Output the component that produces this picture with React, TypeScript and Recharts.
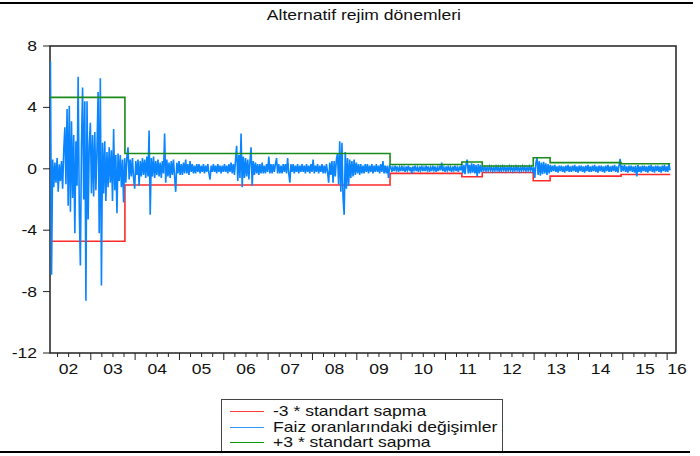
import React from 'react';
import { LineChart, Line, XAxis, YAxis, ReferenceArea } from 'recharts';

// ---- data -------------------------------------------------------------
// weekly-ish sampled changes, first point 2002.09, one step = 0.025 year
const baslangic = 2002.09;
const adim = 0.025;

// 2002 - late 2003 (high volatility regime)
const degisim2002 = [
  7.0, -6.9, 0.6, -1.2, 0.4, -0.9, 0.7, -1.5, 0.3, -0.8,
  0.5, -1.3, 1.2, 2.7, -1.0, 3.9, -2.4, 4.1, -2.8, 3.1,
  -1.9, 2.2, -4.2, 1.8, -1.1, 6.0, -2.5, -6.3, 1.6, 5.3,
  -2.0, 4.4, -8.6, 4.4, -3.3, 1.5, 3.0, -1.6, 2.2, -1.8,
  2.4, -1.4, 1.3, 5.0, -4.2, 5.9, -7.6, 1.7, -1.6, 1.8,
  -2.1, 1.1, -1.2, 1.4, -0.9, 1.2, -2.1, 2.6, -1.4, 0.9,
  -2.9, 1.0, -0.8, 0.9, -1.2, 0.6, -2.2, 0.7,
];

// late 2003 - 2006
const degisim2004 = [
  -0.9, 0.8, 1.4, -0.7, 0.6, -0.5, 0.7, -0.6, -1.3, 0.5, -0.4, 0.6,
  -1.1, 0.5, -0.5, 0.7, -0.4, 0.6, -0.6, 0.8, -0.5, 2.5, -3.0, 0.7, -0.5, 0.8, -0.6, 0.5, -0.4, 0.6, -0.5, 0.4,
  -0.6, 0.5, -0.3, 2.3, -0.9, 0.6, -0.5, 0.4, -0.6, 0.5, -0.4, 0.6, -0.5, -1.5, 0.4, -0.3, 0.5, -0.4, 0.3, -0.4,
  0.4, -0.3, 0.6, -0.3, 0.3, -0.4, 0.5, -0.2, 0.3, -0.3, 0.2, -0.3, 0.3, -0.2, 0.3, -0.3, 0.2, -0.2, 0.3, -0.3,
  0.2, -0.2, 0.3, -0.3, -0.7, 0.2, -0.2, 0.3, -0.2, 0.2, -0.3, 0.3, -0.2, 0.2, -0.3, 0.2, -0.2, 0.3, -0.2, 0.2,
  -0.3, 0.3, -0.2, 0.4, -0.3, 0.3, -0.4,
];

// 2006 - 2009
const degisim2006 = [
  0.6, 1.5, -0.8, 0.9, -0.6, 2.3, -1.2, 0.8, -0.6, 0.7, -0.5, 0.6, -0.7,
  0.5, 1.4, -1.1, 0.5, -0.4, 0.4, -0.3, 0.3, -0.4, 0.3, -0.3, 0.4, -0.3, 0.2, -0.3, 0.3, -0.2, 0.8, -0.3, 0.3,
  -0.3, 0.3, -0.2, 0.3, 0.7, -0.3, 0.3, -0.3, 0.2, -0.3, 0.3, -0.2, 0.3, -0.3, 0.7, -0.3, -0.9, 0.3, -0.2, 0.3,
  -0.3, 0.2, -0.2, 0.3, -0.3, 0.2, -0.2, 0.3, -0.2, 0.2, -0.3, 0.3, -0.2, 0.2, -0.3, 0.3, -0.2, 0.6, -0.3, 0.2,
  -0.2, 0.3, -0.3, 0.2, -0.2, 0.3, -0.3, 0.2, -0.3, 0.3, -0.2, -0.9, 0.4, -0.4, 0.5, -0.9, 0.5, -0.5, 0.6, 1.0,
  -1.0, 1.8, -1.5, 1.7, -1.9, -3.0, 1.1, -1.3, 0.7, -1.1, 0.6, -0.6, 0.5, -0.5, 0.6, -0.4, 0.4, -0.3, 0.3, -0.4,
  0.3, -0.3, 0.2, -0.3, 0.3, -0.2, 0.3, -0.3, 0.2, -0.2, 0.3, -0.3, 0.2, -0.2, 0.3, -0.2, 0.2, -0.3, 0.3, -0.2,
  0.5, -0.3, 0.2, -0.3, 0.2, -0.6, 0.2,
];

// late 2009 - 2012
const degisim2010 = [
  0.15, -0.2, 0.1, -0.15, 0.2, -0.1, 0.15, -0.2, 0.1, -0.15,
  0.2, -0.15, 0.1, -0.2, 0.15, -0.1, 0.2, -0.15, 0.1, -0.3,
  0.15, -0.1, 0.2, -0.15, 0.1, -0.2, 0.15, -0.1, 0.2, -0.15,
  0.1, -0.15, 0.2,
  -0.1, 0.15, -0.2, 0.1, -0.15, 0.2, -0.1, 0.15, -0.2, 0.1,
  -0.15, 0.2, -0.1, 0.4, -0.15, 0.1, -0.2, 0.15, -0.1, 0.2,
  -0.15, 0.1, -0.2, 0.15, -0.1, 0.2, -0.15, 0.1, -0.2, 0.15,
  -0.1,
  0.3, -0.3, 0.25, -0.35, 0.3, 0.6, -0.3, 0.25, -0.3, 0.35,
  -0.25, 0.3, -0.3, 0.25, -0.5, 0.3, -0.3, 0.25, -0.2,
  0.15, -0.1, 0.12, -0.15, 0.1, -0.12, 0.15, -0.1, 0.12, -0.15,
  0.1, -0.12, 0.15, -0.1, 0.12, -0.2, 0.1, -0.12, 0.15, -0.1,
  0.12, -0.15, 0.1, -0.12, 0.15, -0.1, 0.12, -0.15, 0.1, -0.12,
  0.15, -0.1, 0.12, -0.15, 0.1, -0.12, 0.15, -0.1, 0.12, -0.15,
  0.1, -0.12, 0.15, -0.1, 0.12, -0.15, 0.1,
];

// 2013 - 2016
const degisim2013 = [
  -0.6, 0.4, 0.7, -0.4, 0.5, -0.45, 0.4, -0.35, 0.45, -0.3,
  0.35, -0.4, 0.3, -0.3, 0.25,
  -0.2, 0.2, -0.15, 0.25, -0.2, 0.15, -0.25, 0.2, -0.15, 0.2,
  -0.2, 0.15, -0.25, 0.2, -0.15, 0.25, -0.2, 0.15, -0.2, 0.2,
  -0.15, 0.25, -0.2, 0.15, -0.25, 0.2, -0.15, 0.2, -0.2, 0.15,
  -0.25, 0.2, -0.15, 0.25, -0.2, 0.15, -0.2, 0.2, -0.15, 0.25,
  -0.2, 0.15, -0.25, 0.2, -0.15, 0.2, -0.2, 0.15, -0.25, 0.2,
  -0.15, 0.25, -0.2, 0.15, -0.2, 0.2, -0.15, 0.25, -0.2, 0.15,
  -0.25, 0.2,
  0.65,
  -0.2, 0.2, -0.15, 0.25, -0.2, 0.15, -0.25, 0.2, -0.15, 0.2,
  -0.2, 0.15, -0.25, 0.2, -0.5, 0.25, -0.2, 0.15, -0.25, 0.2,
  -0.15, 0.2, -0.2, 0.15, -0.25, 0.2, -0.15, 0.25, -0.2, 0.15,
  -0.25, 0.2, -0.15, 0.2, -0.2, 0.15, -0.25, 0.2, -0.15, 0.25,
  -0.2, 0.15, -0.2, 0.35, -0.1,
];

// regime boundaries and +/- 3 sd bands
const rejimBaslangici = [2002.09, 2003.77, 2009.75, 2011.37, 2011.83, 2012.98, 2013.36, 2014.96];
const rejimSonu = 2016.07;
const ustSinir = [4.65, 1.0, 0.28, 0.44, 0.18, 0.72, 0.4, 0.33];
const altSinir = [-4.72, -1.06, -0.3, -0.52, -0.24, -0.78, -0.48, -0.37];

const yilEtiketleri = ['02', '03', '04', '05', '06', '07', '08', '09', '10', '11', '12', '13', '14', '15', '16'];
const yTicks = [-12, -8, -4, 0, 4, 8];

// ---- derived ----------------------------------------------------------
const xMin = 2002.08;
const xMax = 2016.2;

const degisim = [...degisim2002, ...degisim2004, ...degisim2006, ...degisim2010, ...degisim2013];
const seri = degisim.map((v, i) => ({ t: baslangic + i * adim, v }));

const rejim = [
  ...rejimBaslangici.map((t, i) => ({ t, ust: ustSinir[i], alt: altSinir[i] })),
  { t: rejimSonu, ust: ustSinir[ustSinir.length - 1], alt: altSinir[altSinir.length - 1] },
];

const xTicks: number[] = [];
for (let y = 2002; y <= 2016; y++) {
  [0, 0.25, 0.5, 0.75].forEach(q => {
    const t = y + q;
    if (t > xMin && t <= 2016) xTicks.push(t);
  });
}
xTicks.push(xMax);

const FONT = '"Liberation Sans", Arial, sans-serif';
const SX = 1.17; // source image is stretched horizontally

const XTick = (props: any) => {
  const { x, y, payload } = props;
  const t: number = payload.value;
  const son = Math.abs(t - xMax) < 1e-6;
  const kesir = t - Math.floor(t);
  const yilBasi = Math.abs(kesir) < 1e-6;
  const orta = Math.abs(kesir - 0.5) < 1e-6;
  const label = son ? yilEtiketleri[yilEtiketleri.length - 1] : orta ? yilEtiketleri[Math.floor(t) - 2002] : null;
  return (
    <g>
      {!son && <line x1={x} x2={x} y1={y} y2={y + (yilBasi ? 7 : 4)} stroke="#222" strokeWidth={1} />}
      {label && (
        <text
          transform={`translate(${x + (son ? 1 : 0)} ${y + 21}) scale(${SX} 1)`}
          textAnchor="middle"
          fontSize={15}
          fontFamily={FONT}
          fill="#111"
        >
          {label}
        </text>
      )}
    </g>
  );
};

const YTick = (props: any) => {
  const { x, y, payload } = props;
  return (
    <g>
      <line x1={x - 7} x2={x} y1={y} y2={y} stroke="#222" strokeWidth={1} />
      <text
        transform={`translate(${x - 13} ${y + 5}) scale(${SX} 1)`}
        textAnchor="end"
        fontSize={15}
        fontFamily={FONT}
        fill="#111"
      >
        {payload.value}
      </text>
    </g>
  );
};

const legendItems = [
  { label: '-3 * standart sapma', color: '#ff3b3b' },
  { label: 'Faiz oranlarındaki değişimler', color: '#2f95ff' },
  { label: '+3 * standart sapma', color: '#0a9a0a' },
];

export default function App() {
  return (
    <div style={{ position: 'absolute', left: 0, top: 0, width: 700, height: 456, background: '#fff', fontFamily: FONT }}>
      <div style={{ position: 'absolute', left: 0, top: 2, width: 693, height: 2, background: '#000' }} />
      <div
        style={{
          position: 'absolute', left: 0, width: 728, top: 6, textAlign: 'center', fontSize: 15,
          lineHeight: '17px', color: '#111', transform: `scaleX(${SX})`, transformOrigin: '0 0',
        }}
      >
        <span style={{ display: 'inline-block', marginLeft: -106 }}>Alternatif rejim dönemleri</span>
      </div>

      <div style={{ position: 'absolute', left: 0, top: 0 }}>
        <LineChart width={700} height={390} margin={{ top: 46, right: 24, left: 0, bottom: 0 }}>
          <XAxis
            dataKey="t"
            type="number"
            domain={[xMin, xMax]}
            allowDataOverflow
            ticks={xTicks}
            interval={0}
            axisLine={false}
            tickLine={false}
            tickSize={0}
            tickMargin={0}
            height={37}
            tick={<XTick />}
          />
          <YAxis
            type="number"
            domain={[-12, 8]}
            ticks={yTicks}
            interval={0}
            axisLine={false}
            tickLine={false}
            tickSize={0}
            tickMargin={0}
            width={50}
            tick={<YTick />}
          />
          <Line data={rejim} dataKey="alt" type="stepAfter" stroke="#ff2a2a" strokeWidth={1.6} dot={false} isAnimationActive={false} />
          <Line data={seri} dataKey="v" type="linear" stroke="#0a84ff" strokeWidth={1.6} dot={false} isAnimationActive={false} />
          <Line data={rejim} dataKey="ust" type="stepAfter" stroke="#1a8a1a" strokeWidth={1.6} dot={false} isAnimationActive={false} />
          <ReferenceArea x1={xMin} x2={xMax} y1={-12} y2={8} fill="none" stroke="#222" strokeWidth={1.5} />
        </LineChart>
      </div>

      <div
        style={{
          position: 'absolute', left: 221, top: 399, width: 282, height: 54,
          border: '1px solid #444', boxSizing: 'border-box', background: '#fff',
        }}
      >
        {legendItems.map((it, i) => (
          <div key={it.label} style={{ position: 'absolute', left: 0, top: 3 + i * 15.5, height: 16, width: 280 }}>
            <div style={{ position: 'absolute', left: 8, top: 8, width: 34, height: 1.3, background: it.color }} />
            <div
              style={{
                position: 'absolute', left: 51, top: 0, fontSize: 15, lineHeight: '16px', color: '#111',
                whiteSpace: 'nowrap', transform: `scaleX(${SX})`, transformOrigin: '0 0',
              }}
            >
              {it.label}
            </div>
          </div>
        ))}
      </div>
      <div style={{ position: 'absolute', left: 0, top: 451, width: 690, height: 2, background: '#000' }} />
    </div>
  );
}
